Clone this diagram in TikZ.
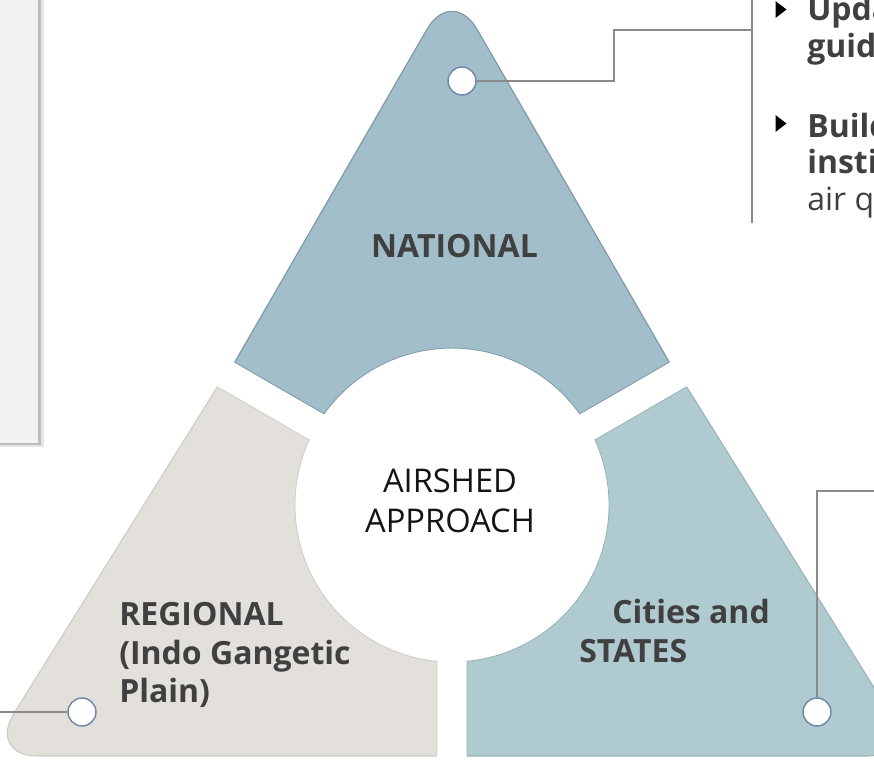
\documentclass[tikz,border=0pt]{standalone}
\usepackage{fontspec}
\setmainfont{Open Sans}
\definecolor{natfill}{HTML}{A2BECB}
\definecolor{natedge}{HTML}{7F9AA8}
\definecolor{regfill}{HTML}{E3E0DB}
\definecolor{regedge}{HTML}{CFCBC4}
\definecolor{cityfill}{HTML}{AFCBCF}
\definecolor{cityedge}{HTML}{97B3B8}
\definecolor{panelfill}{HTML}{F2F2F2}
\definecolor{inkgray}{HTML}{404040}
\definecolor{linkgray}{HTML}{8A8A8A}
\definecolor{ringblue}{HTML}{7088AA}
\begin{document}
\begin{tikzpicture}[x=0.75pt,y=-0.75pt,
  label/.style={font=\fontsize{24}{28}\selectfont\bfseries, text=inkgray, inner sep=0pt},
  plain/.style={font=\fontsize{24}{28}\selectfont, text=inkgray, inner sep=0pt},
  centre/.style={font=\fontsize{24.5}{28}\selectfont, text=black!92, inner sep=0pt},
  link/.style={draw=linkgray, line width=1pt},
  marker/.style={circle, fill=white, draw=ringblue, line width=1.1pt, minimum size=21pt, inner sep=0pt},
  bullet/.style={fill=black}]
\useasboundingbox (0,0) rectangle (874,760);

% side panel with its drop shadow
\fill[black!10] (0,-2) rectangle (44,447);
\fill[black!26] (0,-2) rectangle (41,445);
\fill[panelfill] (0,-2) rectangle (38,443);

% top segment (national)
\begin{scope}
  \clip (113.1,292) -- (324.1,413.9) arc[start angle=215.5,end angle=324.5,radius=157]
        -- (790.9,292) -- (790.9,-100) -- (113.1,-100) -- cycle;
  \filldraw[fill=natfill, draw=natedge, line width=0.9pt, rounded corners=37.5pt]
        (452,-14) -- (-9.5,785) -- (913.5,785) -- cycle;
\end{scope}
\draw[natedge, line width=0.6pt] (234.8,362.3) -- (324.1,413.9)
      arc[start angle=215.5,end angle=324.5,radius=157] -- (669.2,362.3);

% lower left segment (regional)
\begin{scope}
  \clip (98.1,318) -- (309.1,439.9) arc[start angle=204.5,end angle=95.5,radius=157]
        -- (437,800) -- (-50,800) -- (-50,318) -- cycle;
  \filldraw[fill=regfill, draw=regedge, line width=0.8pt, rounded corners=37.5pt]
        (452,10) -- (-12.6,756) -- (916.6,756) -- cycle;
\end{scope}
\draw[regedge, line width=0.6pt] (217.5,386.9) -- (309.1,439.9)
      arc[start angle=204.5,end angle=95.5,radius=157] -- (437,756);

% lower right segment (cities and states)
\begin{scope}
  \clip (805.9,318) -- (594.9,439.9) arc[start angle=-24.5,end angle=84.5,radius=157]
        -- (467,800) -- (950,800) -- (950,318) -- cycle;
  \filldraw[fill=cityfill, draw=cityedge, line width=0.8pt, rounded corners=37.5pt]
        (452,10) -- (-12.6,756) -- (916.6,756) -- cycle;
\end{scope}
\draw[cityedge, line width=0.6pt] (686.5,386.9) -- (594.9,439.9)
      arc[start angle=-24.5,end angle=84.5,radius=157] -- (467,756);

% segment labels
\node[label, anchor=base] (nat) at (454.5,257) {NATIONAL};
\node[label, anchor=base west] (reg1) at (119,625) {REGIONAL};
\node[label, anchor=base west] (reg2) at (119,664) {(Indo Gangetic};
\node[label, anchor=base west] (reg3) at (119,702) {Plain)};
\node[label, anchor=base west] (city1) at (612,623) {Cities and};
\node[label, anchor=base west] (city2) at (579,662) {STATES};

% centre disc text
\node[centre, anchor=base] (hub1) at (450,492) {AIRSHED};
\node[centre, anchor=base] (hub2) at (450,532) {APPROACH};

% call-out text column on the right
\coordinate (d1) at (752,-2);
\coordinate (d2) at (752,223);
\draw[link] (d1) -- (d2);
\fill[bullet] (775.5,1) -- (786.5,9.5) -- (775.5,18) -- cycle;
\fill[bullet] (775.5,115) -- (786.5,123.5) -- (775.5,132) -- cycle;
\node[label, anchor=base west] (t1) at (807,20) {Upda};
\node[label, anchor=base west] (t2) at (807,57) {guid};
\node[label, anchor=base west] (t3) at (807,137) {Build};
\node[label, anchor=base west] (t4) at (807,173) {insti};
\node[plain, anchor=base west] (t5) at (807,210) {air q};

% connectors and their end markers
\coordinate (b1) at (614,81);
\coordinate (b2) at (614,30);
\coordinate (j1) at (752,30);
\coordinate (e2) at (-2,712);
\coordinate (b3) at (817,491);
\coordinate (e3) at (876,491);
\node[marker] (m1) at (462,81) {};
\node[marker] (m2) at (82,712) {};
\node[marker] (m3) at (817,712) {};
\draw[link] (m1.east) -- (b1) -- (b2) -- (j1);
\draw[link] (e2) -- (m2.west);
\draw[link] (m3.north) -- (b3) -- (e3);
\end{tikzpicture}
\end{document}
